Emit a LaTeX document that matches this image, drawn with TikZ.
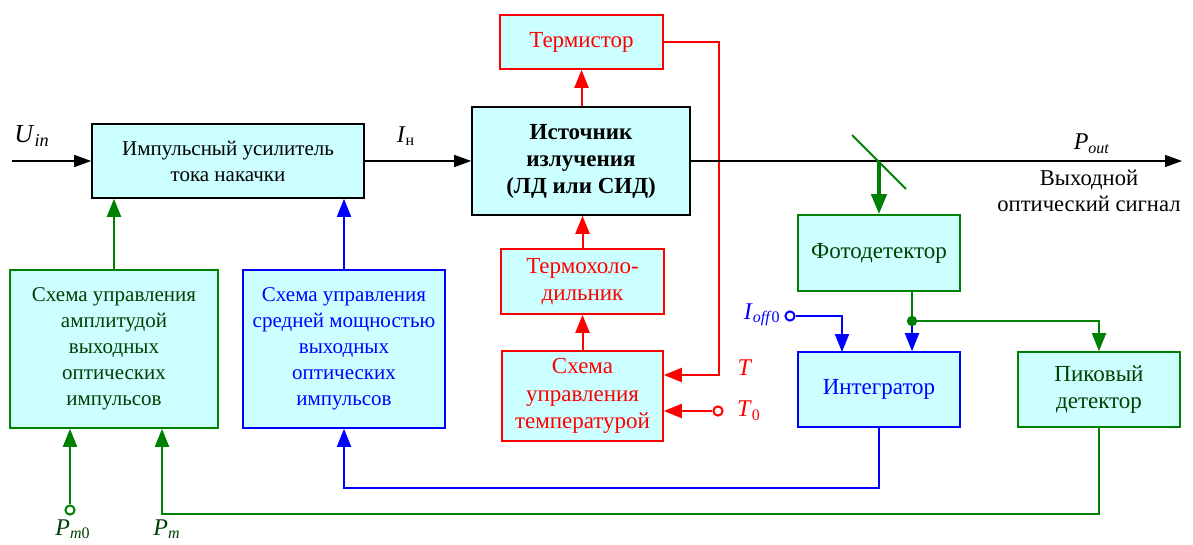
\documentclass[tikz,border=0pt]{standalone}
\usepackage{fontspec}
\setmainfont{Liberation Serif}
\usetikzlibrary{arrows.meta, calc}
\definecolor{cellcyan}{RGB}{204, 255, 255}
\definecolor{loopgreen}{RGB}{0, 128, 0}
\definecolor{textgreen}{RGB}{0, 64, 0}
\definecolor{loopblue}{RGB}{0, 0, 255}
\definecolor{loopred}{RGB}{255, 0, 0}
\newcommand{\sym}[2]{\textit{#1}\textsubscript{#2}}

\begin{document}
\begin{tikzpicture}[x=0.5pt, y=-0.5pt,
    blk/.style={draw, fill=cellcyan, line width=0.8pt, align=center, inner sep=2pt,
        font=\fontsize{10.5}{13}\selectfont},
    bigtxt/.style={font=\fontsize{11.5}{13.8}\selectfont},
    arr/.style={-{Triangle[length=8.5pt, width=6pt]}, line width=0.7pt},
    carr/.style={-{Triangle[length=9pt, width=7pt]}, line width=1pt},
    term/.style={circle, draw, fill=white, inner sep=0pt, minimum size=4.6pt, line width=1pt},
    lbl/.style={font=\fontsize{12}{14}\selectfont, inner sep=0pt}]
    \useasboundingbox (0,0) rectangle (1193,545);

    % Amplifier and source
    \node[blk, minimum width=136pt, minimum height=37pt] (amp) at (228,161)
        {Импульсный усилитель\\тока накачки};
    \node[blk, minimum width=109pt, minimum height=54pt,
        font=\fontsize{11.5}{13.5}\selectfont\bfseries] (src) at (581,161)
        {Источник\\излучения\\(ЛД или СИД)};

    % Temperature loop
    \begin{scope}[every node/.append style={draw=loopred, text=loopred, line width=1.2pt}]
        \node[blk, bigtxt, minimum width=81.5pt, minimum height=27pt] (therm) at (581.5,42) {Термистор};
        \node[blk, bigtxt, minimum width=81.5pt, minimum height=32.5pt] (cool) at (582.5,281.5)
            {Термохоло-\\дильник};
        \node[blk, bigtxt, minimum width=80.5pt, minimum height=45pt] (tctl) at (582.5,396)
            {Схема\\управления\\температурой};
    \end{scope}
    \coordinate (tk) at (719,375);
    \node[term, draw=loopred] (t0) at (718,411) {};
    \draw[carr, loopred] (src.north -| therm.south) -- (therm.south);
    \draw[carr, loopred] (therm.east) -| (tk) -- (tk -| tctl.east);
    \draw[carr, loopred] (t0) -- (t0 -| tctl.east);
    \draw[carr, loopred] (tctl.north) -- (cool.south);
    \draw[carr, loopred] (cool.north) -- (cool.north |- src.south);
    \node[lbl, text=loopred] (tlab) at (745,368) {\textit{T}};
    \node[lbl, text=loopred] (t0lab) at (749,411) {\sym{T}{0}};

    % Signal path
    \coordinate (uin) at (12,161);
    \coordinate (out) at (1182,161);
    \coordinate (mir) at (879,161);
    \draw[arr] (uin) -- (amp.west);
    \draw[arr] (amp.east) -- (src.west);
    \draw[arr] (src.east) -- (out);
    \node[lbl] (uinlab) at (32,136) {\fontsize{13}{15}\selectfont\sym{U}{\textit{in}}};
    \node[lbl] (inlab) at (406,136) {\sym{I}{н}};
    \node[lbl] (poutlab) at (1092,144) {\sym{P}{\textit{out}}};
    \node[lbl, align=center, font=\fontsize{11.3}{13}\selectfont] (outtxt) at (1089,191)
        {Выходной\\оптический сигнал};

    % Monitor branch
    \draw[loopgreen, line width=1pt] (852,135) -- (906,189);
    \begin{scope}[every node/.append style={draw=loopgreen, text=textgreen, line width=1.2pt}]
        \node[blk, bigtxt, minimum width=81pt, minimum height=38pt] (photo) at (879,253) {Фотодетектор};
        \node[blk, bigtxt, minimum width=81pt, minimum height=37.5pt] (peak) at (1099,389.5)
            {Пиковый\\детектор};
        \node[blk, minimum width=104pt, minimum height=79pt] (amplctl) at (114,349)
            {Схема управления\\амплитудой\\выходных\\оптических\\импульсов};
    \end{scope}
    \begin{scope}[every node/.append style={draw=loopblue, text=loopblue, line width=1.2pt}]
        \node[blk, bigtxt, minimum width=81pt, minimum height=37.5pt] (integ) at (879,389.5) {Интегратор};
        \node[blk, minimum width=101pt, minimum height=79pt] (powctl) at (344,349)
            {Схема управления\\средней мощностью\\выходных\\оптических\\импульсов};
    \end{scope}
    \draw[loopgreen, line width=2pt, -{Triangle[length=10pt, width=7.5pt]}] (mir) -- (photo.north);

    \coordinate (jn) at (912,321);
    \coordinate (ioffx) at (842,352);
    \coordinate (pmx) at (162,514);
    \node[term, draw=loopblue] (ioff) at (790,316) {};
    \node[lbl, text=loopblue, anchor=east] (iofflab) at (781,315) {\sym{I}{\textit{off}0}};
    \draw[loopgreen, line width=1pt] (photo.south -| jn) -- (jn);
    \draw[carr, loopblue] (jn) -- (jn |- integ.north);
    \draw[carr, loopgreen] (jn) -| (peak.north);
    \fill[loopgreen] (jn) circle (2.6pt);
    \draw[carr, loopblue] (ioff) -| (ioffx);

    % Feedback to control circuits
    \draw[carr, loopblue] (integ.south) -- ++(0,60) -| (powctl.south);
    \draw[carr, loopgreen] (peak.south) |- (pmx) -- (pmx |- amplctl.south);
    \node[term, draw=loopgreen] (pm0) at (70,510) {};
    \draw[carr, loopgreen] (pm0) -- (pm0 |- amplctl.south);
    \draw[carr, loopgreen] (amplctl.north) -- (amplctl.north |- amp.south);
    \draw[carr, loopblue] (powctl.north) -- (powctl.north |- amp.south);
    \node[lbl, text=textgreen, anchor=base] (pm0lab) at (73,535) {\sym{P}{\textit{m}0}};
    \node[lbl, text=textgreen, anchor=base] (pmlab) at (167,535) {\sym{P}{\textit{m}}};
\end{tikzpicture}
\end{document}
